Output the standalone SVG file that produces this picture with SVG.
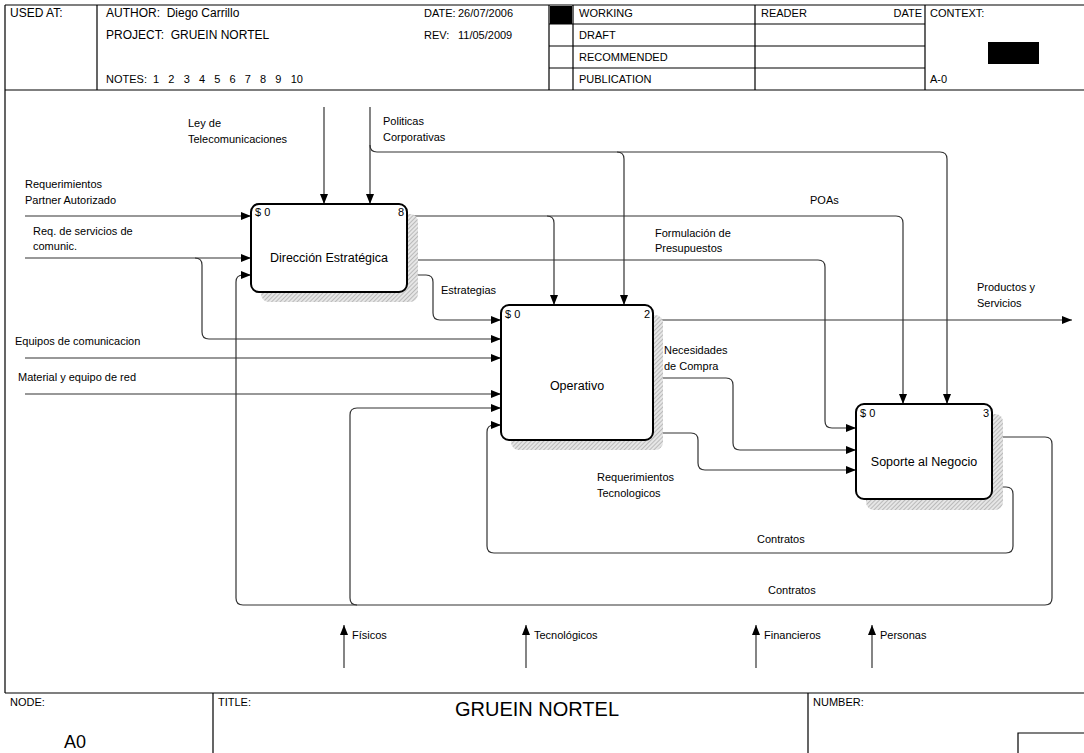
<svg xmlns="http://www.w3.org/2000/svg" width="1084" height="753" viewBox="0 0 1084 753">
  <defs>
    <style>
      text { font-family: "Liberation Sans", Arial, sans-serif; font-size: 11px; fill: #000; white-space: pre; }
      .hd { font-size: 12px; }
      .frame { fill: none; stroke: #000; stroke-width: 1.2; }
      .c { fill: none; stroke: #333; stroke-width: 1.2; }
      .box { fill: #fff; stroke: #000; stroke-width: 2; }
      .shadow { fill: url(#hatch); }
      .name { font-size: 12.5px; text-anchor: middle; }
      .mid { text-anchor: middle; }
      .end { text-anchor: end; }
    </style>
    <pattern id="hatch" width="3" height="3" patternUnits="userSpaceOnUse" patternTransform="rotate(45)">
      <rect width="3" height="3" fill="#e6e6e6"/>
      <line x1="0" y1="0" x2="0" y2="3" stroke="#8f8f8f" stroke-width="1"/>
    </pattern>
    <marker id="ah" viewBox="0 0 10 8" refX="10" refY="4" markerWidth="10" markerHeight="8" markerUnits="userSpaceOnUse" orient="auto">
      <path d="M0,0 L10,4 L0,8 z" fill="#000"/>
    </marker>
  </defs>

  <rect width="1084" height="753" fill="#fff"/>

  <!-- header block -->
  <g id="header">
    <path class="frame" d="M5,5 H1084 M5,5 V693 M5,90 H1084 M97,5 V90 M549,5 V90 M573,5 V90 M755,5 V90 M925,5 V90 M549,24 H925 M549,46 H925 M549,68 H925"/>
    <rect x="550" y="6" width="22" height="18" fill="#000"/>
    <rect x="988" y="42" width="51" height="22" fill="#000"/>
    <text x="10" y="17" class="hd">USED AT:</text>
    <text x="106" y="17" class="hd">AUTHOR:  Diego Carrillo</text>
    <text x="106" y="39" class="hd">PROJECT:  GRUEIN NORTEL</text>
    <text x="106" y="83">NOTES:  1   2   3   4   5   6   7   8   9   10</text>
    <text x="424" y="17">DATE:</text>
    <text x="458" y="17">26/07/2006</text>
    <text x="424" y="39">REV:</text>
    <text x="458" y="39">11/05/2009</text>
    <text x="579" y="17">WORKING</text>
    <text x="579" y="39">DRAFT</text>
    <text x="579" y="61">RECOMMENDED</text>
    <text x="579" y="83">PUBLICATION</text>
    <text x="761" y="17">READER</text>
    <text x="922" y="17" class="end">DATE</text>
    <text x="930" y="17">CONTEXT:</text>
    <text x="930" y="83">A-0</text>
  </g>

  <!-- footer block -->
  <g id="footer">
    <path class="frame" d="M5,693 H1084 M213,693 V753 M808,693 V753 M1018,753 V733 H1084"/>
    <text x="10" y="706">NODE:</text>
    <text x="64" y="748" style="font-size:18px">A0</text>
    <text x="218" y="706">TITLE:</text>
    <text x="537" y="716" class="mid" style="font-size:20px">GRUEIN NORTEL</text>
    <text x="813" y="706">NUMBER:</text>
  </g>

  <!-- connectors -->
  <g id="connectors">
    <!-- controls from above -->
    <path class="c" d="M324,107 V204" marker-end="url(#ah)"/>
    <path class="c" d="M370,107 V204" marker-end="url(#ah)"/>
    <path class="c" d="M370,145 Q370,152 377,152 H940 Q947,152 947,159 V404" marker-end="url(#ah)"/>
    <path class="c" d="M617,152 Q624,152 624,159 V305" marker-end="url(#ah)"/>
    <!-- POAs -->
    <path class="c" d="M407,216 H896 Q903,216 903,223 V404" marker-end="url(#ah)"/>
    <path class="c" d="M547,216 Q554,216 554,223 V305" marker-end="url(#ah)"/>
    <!-- Formulación de Presupuestos -->
    <path class="c" d="M407,260 H818 Q825,260 825,267 V421 Q825,428 832,428 H856" marker-end="url(#ah)"/>
    <!-- Estrategias -->
    <path class="c" d="M407,275 H426 Q433,275 433,282 V313 Q433,320 440,320 H501" marker-end="url(#ah)"/>
    <!-- Productos y Servicios -->
    <path class="c" d="M653,320 H1072" marker-end="url(#ah)"/>
    <!-- inputs from the left -->
    <path class="c" d="M25,216 H251" marker-end="url(#ah)"/>
    <path class="c" d="M25,258 H251" marker-end="url(#ah)"/>
    <path class="c" d="M195,258 Q202,258 202,265 V332 Q202,339 209,339 H501" marker-end="url(#ah)"/>
    <path class="c" d="M25,358 H501" marker-end="url(#ah)"/>
    <path class="c" d="M25,394 H501" marker-end="url(#ah)"/>
    <!-- Necesidades de Compra -->
    <path class="c" d="M653,378 H726 Q733,378 733,385 V443 Q733,450 740,450 H856" marker-end="url(#ah)"/>
    <!-- Requerimientos Tecnologicos -->
    <path class="c" d="M653,433 H691 Q698,433 698,440 V463 Q698,470 705,470 H856" marker-end="url(#ah)"/>
    <!-- Contratos (inner loop) -->
    <path class="c" d="M992,487 H1006 Q1013,487 1013,494 V546 Q1013,553 1006,553 H494 Q487,553 487,546 V432 Q487,425 494,425 H501" marker-end="url(#ah)"/>
    <!-- Contratos (outer loop) -->
    <path class="c" d="M992,437 H1045 Q1052,437 1052,444 V598 Q1052,605 1045,605 H243 Q236,605 236,598 V282 Q236,275 243,275 H251" marker-end="url(#ah)"/>
    <path class="c" d="M357,605 Q350,605 350,598 V415 Q350,408 357,408 H501" marker-end="url(#ah)"/>
    <!-- mechanisms -->
    <path class="c" d="M344,668 V625" marker-end="url(#ah)"/>
    <path class="c" d="M526,668 V625" marker-end="url(#ah)"/>
    <path class="c" d="M756,668 V625" marker-end="url(#ah)"/>
    <path class="c" d="M872,668 V625" marker-end="url(#ah)"/>
  </g>

  <!-- connector labels -->
  <g id="labels">
    <text x="188" y="127">Ley de</text>
    <text x="188" y="143">Telecomunicaciones</text>
    <text x="383" y="125">Politicas</text>
    <text x="383" y="141">Corporativas</text>
    <text x="25" y="188">Requerimientos</text>
    <text x="25" y="204">Partner Autorizado</text>
    <text x="33" y="235">Req. de servicios de</text>
    <text x="33" y="250">comunic.</text>
    <text x="810" y="204">POAs</text>
    <text x="655" y="237">Formulación de</text>
    <text x="655" y="252">Presupuestos</text>
    <text x="441" y="294">Estrategias</text>
    <text x="977" y="291">Productos y</text>
    <text x="977" y="307">Servicios</text>
    <text x="15" y="345">Equipos de comunicacion</text>
    <text x="18" y="381">Material y equipo de red</text>
    <text x="664" y="354">Necesidades</text>
    <text x="664" y="370">de Compra</text>
    <text x="597" y="481">Requerimientos</text>
    <text x="597" y="497">Tecnologicos</text>
    <text x="757" y="543">Contratos</text>
    <text x="768" y="594">Contratos</text>
    <text x="352" y="639">Físicos</text>
    <text x="534" y="639">Tecnológicos</text>
    <text x="764" y="639">Financieros</text>
    <text x="880" y="639">Personas</text>
  </g>

  <!-- activity boxes -->
  <g id="node-direccion">
    <rect class="shadow" x="261" y="214" width="157" height="88" rx="8"/>
    <rect class="box" x="251" y="204" width="156" height="88" rx="8"/>
    <text x="255" y="216">$ 0</text>
    <text x="404" y="216" class="end">8</text>
    <text x="329" y="262" class="name">Dirección Estratégica</text>
  </g>

  <g id="node-operativo">
    <rect class="shadow" x="511" y="315" width="152" height="135" rx="8"/>
    <rect class="box" x="501" y="305" width="152" height="135" rx="8"/>
    <text x="505" y="318">$ 0</text>
    <text x="650" y="318" class="end">2</text>
    <text x="577" y="390" class="name">Operativo</text>
  </g>

  <g id="node-soporte">
    <rect class="shadow" x="866" y="414" width="137" height="96" rx="8"/>
    <rect class="box" x="856" y="404" width="136" height="95" rx="8"/>
    <text x="860" y="417">$ 0</text>
    <text x="989" y="417" class="end">3</text>
    <text x="924" y="466" class="name">Soporte al Negocio</text>
  </g>
</svg>
